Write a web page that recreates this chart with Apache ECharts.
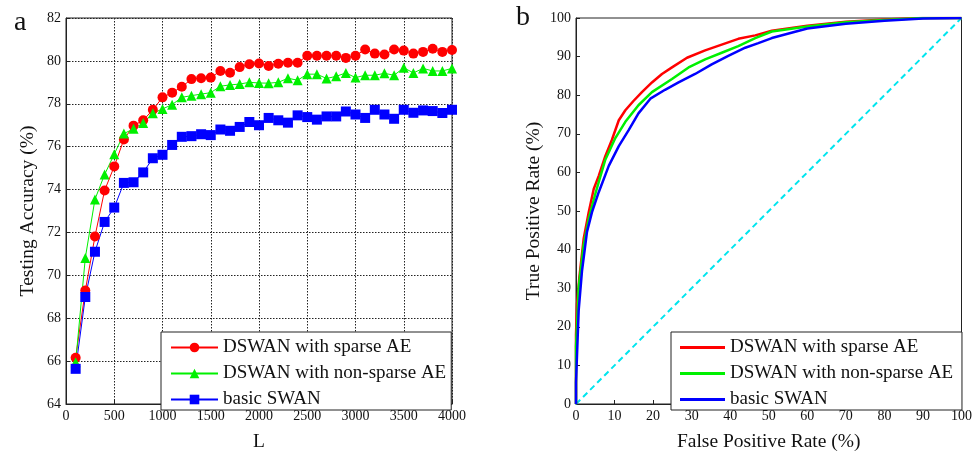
<!DOCTYPE html>
<html>
<head>
<meta charset="utf-8">
<script src="https://cdn.jsdelivr.net/npm/echarts@6/dist/echarts.min.js"></script>
<style>html,body{margin:0;padding:0;background:#fff}#c{width:975px;height:457px}</style>
</head>
<body>
<div id="c"></div>
<script>
// ---- Panel a: testing accuracy vs L ----
const L = [100,200,300,400,500,600,700,800,900,1000,1100,1200,1300,1400,1500,1600,1700,1800,1900,2000,
           2100,2200,2300,2400,2500,2600,2700,2800,2900,3000,3100,3200,3300,3400,3500,3600,3700,3800,3900,4000];
const accSparse = [66.16,69.29,71.81,73.96,75.08,76.34,76.98,77.23,77.72,78.3,78.52,78.79,79.15,79.19,79.22,79.53,79.45,79.71,79.84,79.88,
                   79.76,79.87,79.91,79.91,80.24,80.24,80.24,80.24,80.14,80.24,80.53,80.34,80.3,80.53,80.48,80.34,80.42,80.57,80.42,80.51];
const accNonSparse = [65.95,70.81,73.54,74.7,75.65,76.61,76.83,77.1,77.56,77.76,77.96,78.3,78.38,78.45,78.52,78.82,78.88,78.92,79.0,78.97,
                      78.96,79.0,79.19,79.1,79.38,79.38,79.18,79.28,79.44,79.22,79.33,79.33,79.42,79.33,79.68,79.44,79.65,79.53,79.53,79.65];
const accBasic = [65.64,68.99,71.1,72.49,73.16,74.31,74.34,74.8,75.46,75.62,76.08,76.46,76.49,76.58,76.54,76.8,76.74,76.92,77.15,77.0,
                  77.34,77.23,77.12,77.46,77.38,77.26,77.41,77.41,77.64,77.5,77.34,77.72,77.5,77.3,77.72,77.58,77.69,77.66,77.57,77.72];

// ---- Panel b: ROC curves ----
const fprSparse = [0,0,0.26,0.86,2.0,3.3,4.6,5.9,7.6,9.3,11.1,12.8,14.9,17.1,19.7,22.3,24.9,28.8,33.5,37.8,42.1,46.5,50.8,60,70,80,90,100];
const tprSparse = [0,18,25.9,32.7,42.9,49.7,55.7,59.1,64.2,68.4,73.5,76.1,78.5,80.8,83.3,85.5,87.2,89.7,91.6,93.1,94.6,95.5,96.7,98,99,99.6,100,100];
const fprNonSparse = [0,0,0.69,2.0,3.3,5.0,7.6,10.2,12.8,16.2,19.7,24.9,29.2,33.5,37.8,42.1,46.5,50.8,60,70,80,90,100];
const tprNonSparse = [0,14.9,30.2,41.2,48,54.4,63.3,68.9,73.1,77.4,80.8,84.2,87.2,89.3,91.0,92.7,94.8,96.5,97.8,98.9,99.5,100,100];
const fprBasic = [0,0,0.69,1.55,2.85,4.15,5.87,8.5,11.1,13.7,16.2,19.3,23.1,26.6,30.9,35.2,39.5,43.9,47.3,50.8,60,70,80,90,100];
const tprBasic = [0,5.5,24.2,34.4,44.6,49.7,54.8,61.7,66.8,71.0,75.3,79.1,81.4,83.3,85.5,88.0,90.2,92.3,93.5,94.8,97.3,98.5,99.3,99.9,100];
const fprChance = [0,100];
const tprChance = [0,100];

const namesA = ['DSWAN with sparse AE','DSWAN with non-sparse AE','basic SWAN'];
const namesB = ['DSWAN with sparse AE ','DSWAN with non-sparse AE ','basic SWAN '];

const zip = (xs, ys) => xs.map((x, i) => [x, ys[i]]);
const FONT = 'Liberation Serif';
const tickLabel = {fontFamily: FONT, fontSize: 14, color: '#111', formatter: v => String(v)};
const nameStyle = {fontFamily: FONT, fontSize: 19.5, color: '#111'};
const RED = '#ff0000', GREEN = '#00f000', BLUE = '#0000ff';

const chart = echarts.init(document.getElementById('c'), null, {renderer: 'canvas'});
chart.setOption({
  animation: false,
  backgroundColor: '#fff',
  graphic: [
    {type: 'text', left: 14, top: 9, style: {text: 'a', font: '28px "Liberation Serif"', fill: '#111'}},
    {type: 'text', left: 516, top: 4, style: {text: 'b', font: '28px "Liberation Serif"', fill: '#111'}}
  ],
  grid: [
    {left: 66, top: 18, width: 386, height: 391, show: true, borderColor: '#222', borderWidth: 1, backgroundColor: 'transparent'},
    {left: 576, top: 18, width: 386, height: 392, show: true, borderColor: '#222', borderWidth: 1, backgroundColor: 'transparent'}
  ],
  xAxis: [
    {gridIndex: 0, type: 'value', min: 0, max: 4000, interval: 500,
     name: 'L', nameLocation: 'middle', nameGap: 28, nameTextStyle: nameStyle,
     axisLine: {show: true, lineStyle: {color: '#222'}},
     axisTick: {show: true, inside: true, length: 4, lineStyle: {color: '#222'}},
     axisLabel: Object.assign({margin: 5}, tickLabel),
     splitLine: {show: true, lineStyle: {type: [1.5, 1.5], color: '#222', width: 1}}},
    {gridIndex: 1, type: 'value', min: 0, max: 100, interval: 10,
     name: 'False Positive Rate (%)', nameLocation: 'middle', nameGap: 28, nameTextStyle: nameStyle,
     axisLine: {show: true, lineStyle: {color: '#222'}},
     axisTick: {show: true, inside: true, length: 4, lineStyle: {color: '#222'}},
     axisLabel: Object.assign({margin: 5}, tickLabel),
     splitLine: {show: false}}
  ],
  yAxis: [
    {gridIndex: 0, type: 'value', min: 64, max: 82, interval: 2,
     name: 'Testing Accuracy (%)', nameLocation: 'middle', nameGap: 28, nameTextStyle: nameStyle,
     axisLine: {show: true, lineStyle: {color: '#222'}},
     axisTick: {show: true, inside: true, length: 4, lineStyle: {color: '#222'}},
     axisLabel: Object.assign({margin: 5}, tickLabel),
     splitLine: {show: true, lineStyle: {type: [1.5, 1.5], color: '#222', width: 1}}},
    {gridIndex: 1, type: 'value', min: 0, max: 100, interval: 10,
     name: 'True Positive Rate (%)', nameLocation: 'middle', nameGap: 32, nameTextStyle: nameStyle,
     axisLine: {show: true, lineStyle: {color: '#222'}},
     axisTick: {show: true, inside: true, length: 4, lineStyle: {color: '#222'}},
     axisLabel: Object.assign({margin: 5}, tickLabel),
     splitLine: {show: false}}
  ],
  legend: [
    {data: namesA, orient: 'vertical', left: 161, top: 332, itemWidth: 47, itemHeight: 12, itemGap: 7,
     padding: [6, 5, 1, 9], borderColor: '#222', borderWidth: 1, backgroundColor: '#fff',
     textStyle: {fontFamily: FONT, fontSize: 19, color: '#111'}},
    {data: namesB.map(n => ({name: n, icon: 'rect'})), orient: 'vertical', left: 671, top: 332,
     itemWidth: 45, itemHeight: 3, itemGap: 7,
     padding: [6, 4, 1, 9], borderColor: '#222', borderWidth: 1, backgroundColor: '#fff',
     textStyle: {fontFamily: FONT, fontSize: 19, color: '#111'}}
  ],
  series: [
    {name: namesA[0], type: 'line', xAxisIndex: 0, yAxisIndex: 0, data: zip(L, accSparse),
     symbol: 'circle', symbolSize: 10, color: RED, lineStyle: {width: 1, color: RED}, z: 3},
    {name: namesA[1], type: 'line', xAxisIndex: 0, yAxisIndex: 0, data: zip(L, accNonSparse),
     symbol: 'triangle', symbolSize: 10, color: GREEN, lineStyle: {width: 1, color: GREEN}, z: 3},
    {name: namesA[2], type: 'line', xAxisIndex: 0, yAxisIndex: 0, data: zip(L, accBasic),
     symbol: 'rect', symbolSize: 10, color: BLUE, lineStyle: {width: 1, color: BLUE}, z: 3},
    {name: 'chance', type: 'line', xAxisIndex: 1, yAxisIndex: 1, data: zip(fprChance, tprChance),
     symbol: 'none', color: '#00e5ee', lineStyle: {width: 2, type: [6, 4], color: '#00e5ee'}, z: 2},
    {name: namesB[0], type: 'line', xAxisIndex: 1, yAxisIndex: 1, data: zip(fprSparse, tprSparse),
     symbol: 'none', color: RED, lineStyle: {width: 2.5, color: RED}, z: 3},
    {name: namesB[1], type: 'line', xAxisIndex: 1, yAxisIndex: 1, data: zip(fprNonSparse, tprNonSparse),
     symbol: 'none', color: GREEN, lineStyle: {width: 2.5, color: GREEN}, z: 3},
    {name: namesB[2], type: 'line', xAxisIndex: 1, yAxisIndex: 1, data: zip(fprBasic, tprBasic),
     symbol: 'none', color: BLUE, lineStyle: {width: 2.5, color: BLUE}, z: 3}
  ]
});
</script>
</body>
</html>
